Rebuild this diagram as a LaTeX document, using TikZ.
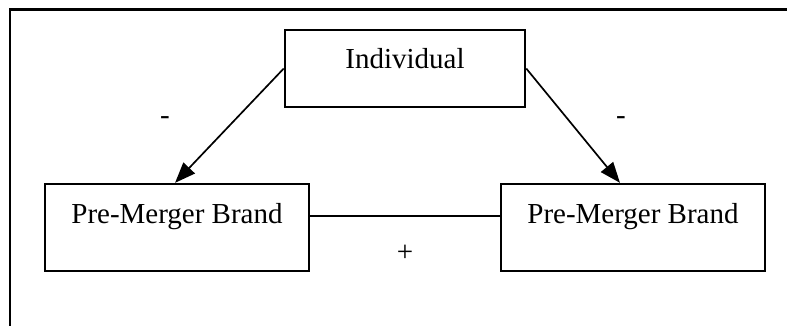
\documentclass[tikz,border=0pt]{standalone}
\usepackage{fontspec}
\setmainfont{Liberation Serif}
\usetikzlibrary{arrows.meta}
\begin{document}
\begin{tikzpicture}[
    x=0.414pt, y=-0.414pt,
    box/.style={draw, line width=1pt, inner sep=0pt, align=center, font=\fontsize{12}{14}\selectfont},
    topbox/.style={box, minimum width=99.4pt, text height=16.1pt, text depth=15.8pt},
    brandbox/.style={box, minimum width=109.3pt, text height=16.5pt, text depth=19.5pt},
    sign/.style={inner sep=0pt, font=\fontsize{12}{14}\selectfont},
    link/.style={line width=0.7pt},
    arr/.style={link, -{Triangle[length=8.5pt, width=6.5pt]}}
]
\useasboundingbox (0,0) rectangle (787,326);
\draw[line width=1pt] (787,9.5) -- (10,9.5) -- (10,326);
\node[topbox] (ind) at (405,68.5) {Individual};
\node[brandbox] (brandA) at (177,227.5) {Pre-Merger Brand};
\node[brandbox] (brandB) at (633,227.5) {Pre-Merger Brand};
\node[sign] (minusA) at (165,121) {-};
\node[sign] (minusB) at (621,121) {-};
\node[sign] (plus) at (405,253) {+};
\draw[arr] (ind.west) -- ([xshift=-0.8pt]brandA.north);
\draw[arr] (ind.east) -- ([xshift=-5.4pt]brandB.north);
\draw[link] ([yshift=4.8pt]brandA.east) -- ([yshift=4.8pt]brandB.west);
\end{tikzpicture}
\end{document}
